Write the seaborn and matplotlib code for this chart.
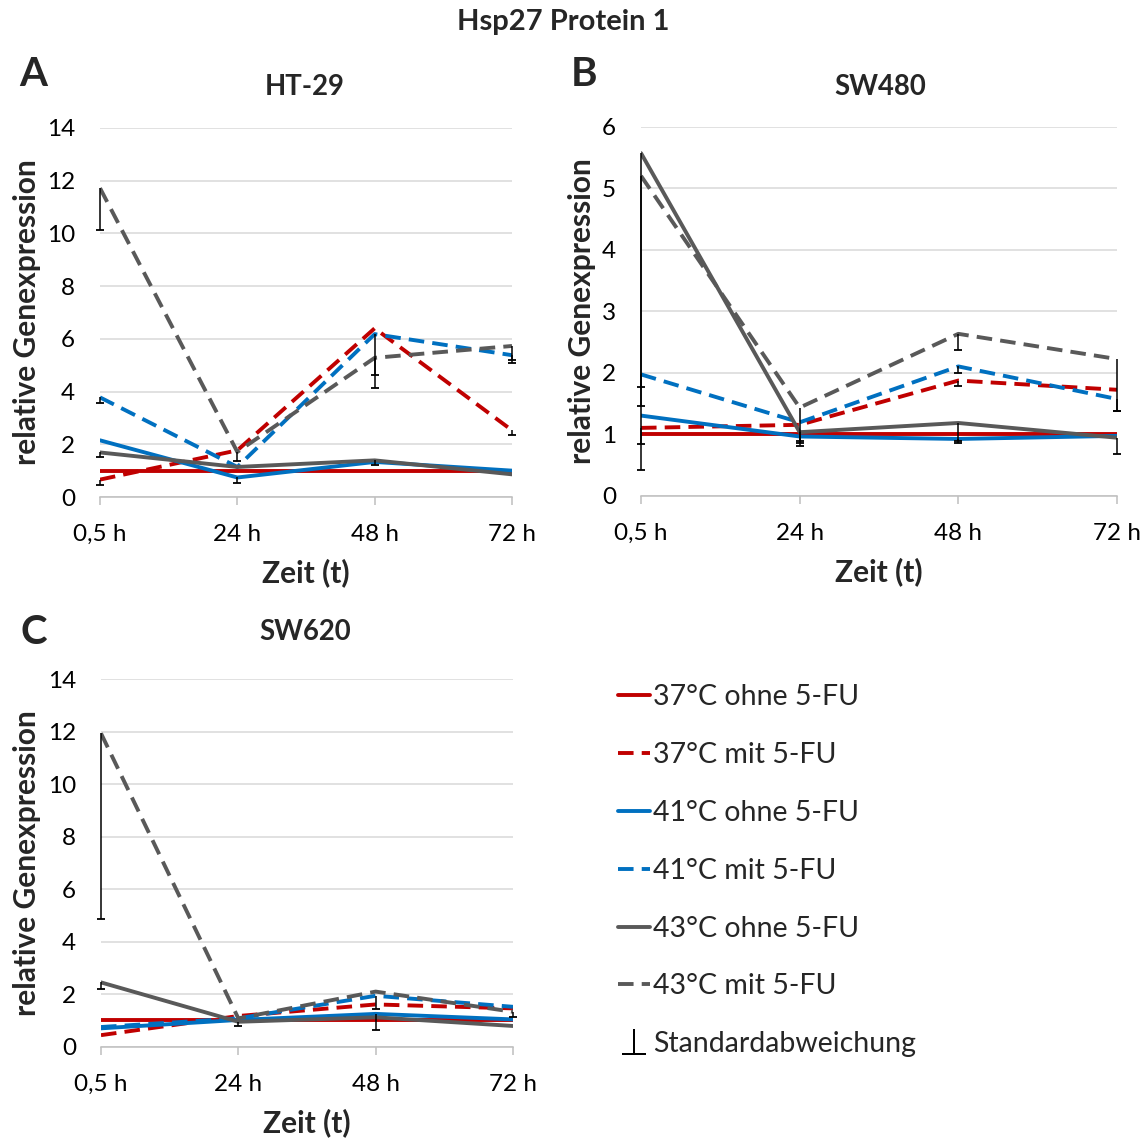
import matplotlib
matplotlib.use("Agg")
import matplotlib.pyplot as plt
from matplotlib.lines import Line2D
import seaborn as sns
import pandas as pd

sns.set_theme(style="white")
plt.rcParams["font.family"] = ["Lato", "DejaVu Sans"]

# ---- data -------------------------------------------------------------
time_labels = ["0,5 h", "24 h", "48 h", "72 h"]
series_labels = ["37°C ohne 5-FU", "37°C mit 5-FU",
                 "41°C ohne 5-FU", "41°C mit 5-FU",
                 "43°C ohne 5-FU", "43°C mit 5-FU"]

# relative gene expression (rows follow series_labels)
ht29_values = [
    [1.00, 1.00, 1.00, 1.00],
    [0.66, 1.77, 6.40, 2.53],
    [2.15, 0.74, 1.33, 1.00],
    [3.78, 1.14, 6.18, 5.38],
    [1.69, 1.14, 1.39, 0.86],
    [11.72, 1.71, 5.28, 5.73],
]
ht29_sd = [
    [0.00, 0.00, 0.00, 0.00],
    [0.22, 0.00, 0.00, 0.18],
    [0.00, 0.21, 0.00, 0.00],
    [0.22, 0.00, 1.55, 0.30],
    [0.17, 0.00, 0.19, 0.00],
    [1.58, 0.34, 1.16, 0.55],
]

sw480_values = [
    [1.00, 1.00, 1.00, 1.00],
    [1.10, 1.15, 1.87, 1.72],
    [1.30, 0.96, 0.92, 0.97],
    [1.97, 1.19, 2.10, 1.57],
    [5.57, 1.03, 1.18, 0.94],
    [5.20, 1.43, 2.63, 2.22],
]
sw480_sd = [
    [0.00, 0.00, 0.00, 0.00],
    [0.26, 0.00, 0.09, 0.00],
    [0.00, 0.11, 0.06, 0.00],
    [0.21, 0.00, 0.10, 0.19],
    [5.15, 0.15, 0.30, 0.26],
    [3.75, 0.62, 0.27, 0.84],
]

sw620_values = [
    [1.00, 1.00, 1.00, 1.00],
    [0.44, 1.17, 1.61, 1.46],
    [0.70, 1.02, 1.25, 1.04],
    [0.75, 1.08, 1.94, 1.52],
    [2.45, 0.95, 1.12, 0.79],
    [11.94, 1.08, 2.10, 1.33],
]
sw620_sd = [
    [0.00, 0.00, 0.00, 0.00],
    [0.00, 0.00, 0.00, 0.00],
    [0.00, 0.00, 0.61, 0.00],
    [0.00, 0.00, 0.52, 0.00],
    [0.25, 0.16, 0.00, 0.00],
    [7.09, 0.00, 0.00, 0.18],
]

# ---- styles -----------------------------------------------------------
RED, BLUE, GRAY = "#C00000", "#0070C0", "#595959"
series_colors = [RED, RED, BLUE, BLUE, GRAY, GRAY]
DASH = (0, (4.0, 2.1))
series_styles = ["-", DASH, "-", DASH, "-", DASH]
LW = 2.8

TICK_FS = 17.5
LABEL_FS = 21.5
TITLE_FS = 19.8

W, H = 1148, 1140
fig = plt.figure(figsize=(W / 100, H / 100), dpi=100)


def add_axes_px(left, right, top, bottom):
    return fig.add_axes([left / W, 1 - bottom / H, (right - left) / W, (bottom - top) / H])


def draw_panel(ax, values, sds, ymax, ystep, title, title_xy, ylabel_x, xlabel_y):
    x = list(range(len(time_labels)))
    for vals, col, ls, lab in zip(values, series_colors, series_styles, series_labels):
        df = pd.DataFrame({"t": x, "v": vals})
        sns.lineplot(data=df, x="t", y="v", ax=ax, color=col, linestyle=ls,
                     linewidth=LW, label=lab, legend=False, zorder=3)
    # one-sided (minus) standard deviation bars
    for vals, sd in zip(values, sds):
        for xi, v, s in zip(x, vals, sd):
            if s > 0:
                ax.errorbar([xi], [v], yerr=[[s], [0]], fmt="none", ecolor="black",
                            elinewidth=1.1, capsize=0, zorder=4, clip_on=False)
                ax.plot([xi], [v - s], marker="_", color="black", markersize=6,
                        markeredgewidth=1.3, zorder=4, clip_on=False)
    ax.set_xlim(0, len(time_labels) - 1)
    ax.set_ylim(0, ymax)
    ax.set_yticks(range(0, ymax + 1, ystep))
    ax.set_xticks(x)
    ax.set_xticklabels(time_labels)
    ax.yaxis.grid(True, color="#D9D9D9", linewidth=1.1)
    ax.xaxis.grid(False)
    for side in ["left", "right", "top"]:
        ax.spines[side].set_visible(False)
    ax.spines["bottom"].set_color("#BFBFBF")
    ax.spines["bottom"].set_linewidth(1.1)
    ax.tick_params(axis="y", length=0, pad=18, labelsize=TICK_FS, colors="black")
    ax.tick_params(axis="x", direction="out", length=6, width=1.1, color="#BFBFBF",
                   pad=13.5, labelsize=TICK_FS, labelcolor="black", bottom=True)
    ax.set_xlabel("Zeit (t)", fontsize=LABEL_FS, fontweight="bold", va="center")
    ax.xaxis.set_label_coords(0.5, xlabel_y)
    ax.set_ylabel("relative Genexpression", fontsize=LABEL_FS, fontweight="bold",
                  va="center")
    ax.yaxis.set_label_coords(ylabel_x, 0.5)
    ax.text(title_xy[0], title_xy[1], title, transform=ax.transAxes, ha="center",
            va="center", fontsize=TITLE_FS, fontweight="bold")


ax_a = add_axes_px(100, 512, 128, 497)
ax_b = add_axes_px(641, 1117, 126.7, 495.5)
ax_c = add_axes_px(101, 513, 679.3, 1046.7)

draw_panel(ax_a, ht29_values, ht29_sd, 14, 2, "HT-29", (0.498, 1.111), -0.177, -0.206)
draw_panel(ax_b, sw480_values, sw480_sd, 6, 1, "SW480", (0.502, 1.108), -0.124, -0.207)
draw_panel(ax_c, sw620_values, sw620_sd, 14, 2, "SW620", (0.495, 1.129), -0.180, -0.208)

fig.text(563 / W, 1 - 22 / H, "Hsp27 Protein 1", ha="center", va="center",
         fontsize=21, fontweight="bold")
for letter, (px, py) in {"A": (33, 75), "B": (584, 75), "C": (34, 632)}.items():
    fig.text(px / W, 1 - py / H, letter, ha="center", va="center",
             fontsize=29, fontweight="bold")

# legend
handles = [Line2D([], [], color=c, linestyle=s, linewidth=LW)
           for c, s in zip(series_colors, series_styles)]
handles.append(Line2D([], [], linestyle="none", marker="$\\perp$", color="black",
                      markersize=19, markeredgewidth=0))
labels = series_labels + ["Standardabweichung"]
fig.legend(handles, labels, loc="upper left", bbox_to_anchor=(618 / W, 1 - 684 / H),
           frameon=False, fontsize=20.5, handlelength=1.12, handletextpad=0.12,
           labelspacing=1.12, borderpad=0, borderaxespad=0)

fig.savefig("out.png", dpi=100)
